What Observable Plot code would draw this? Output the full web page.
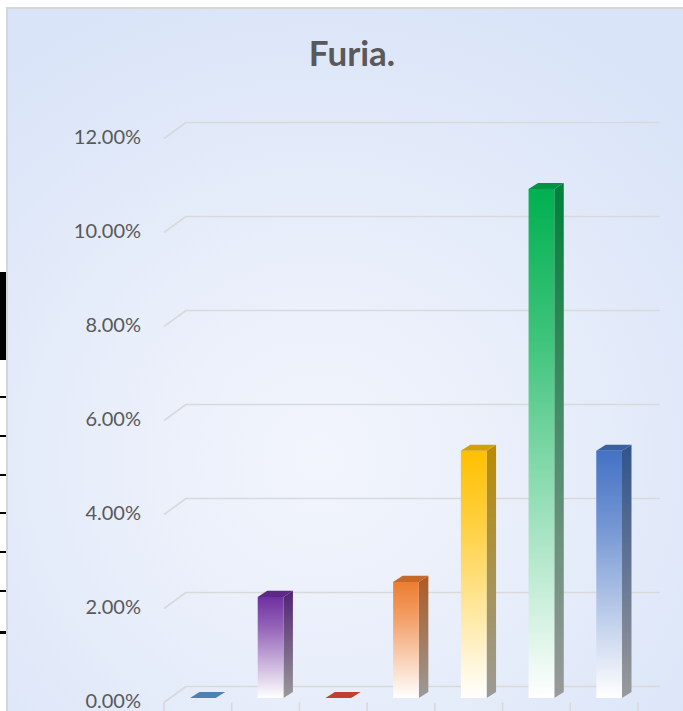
<!DOCTYPE html>
<html><head><meta charset="utf-8">
<script src="https://cdn.jsdelivr.net/npm/d3@7"></script>
<script src="https://cdn.jsdelivr.net/npm/@observablehq/plot@0.6"></script>
<style>
html,body{margin:0;padding:0;background:#fff;width:683px;height:711px;overflow:hidden;position:relative;}
#frame{position:absolute;left:6px;top:7px;width:677px;height:704px;border-left:2px solid #d6d6d6;border-top:2px solid #d6d6d6;box-sizing:border-box;
 background:radial-gradient(ellipse 75% 70% at 46% 64%, #f2f5fc 0%, #e8eefa 45%, #d9e4f8 100%);}
#title{position:absolute;left:0;width:704px;top:35px;text-align:center;font:bold 35px Lato, sans-serif;line-height:1;color:#595959;}
#chart{position:absolute;left:0;top:100px;}
.cell{position:absolute;left:0;width:6px;background:#000;}
</style></head>
<body>
<div class="cell" style="top:272px;height:88px"></div>
<div class="cell" style="top:396px;height:2px"></div>
<div class="cell" style="top:435px;height:2px"></div>
<div class="cell" style="top:474px;height:2px"></div>
<div class="cell" style="top:512px;height:2px"></div>
<div class="cell" style="top:551px;height:2px"></div>
<div class="cell" style="top:590px;height:2px"></div>
<div class="cell" style="top:631px;height:3px"></div>
<div id="frame"></div>
<div id="title">Furia.</div>
<div id="chart"></div>
<script>
// ---- data ----
const categories = ["1", "2", "3", "4", "5", "6", "7"];
const values = [0, 2.15, 0, 2.47, 5.26, 10.83, 5.26];
const colors = ["#5b9bd5", "#7030a0", "#e74c3c", "#ed7d31", "#ffc000", "#00b050", "#4472c4"];
const yTicks = [0, 2, 4, 6, 8, 10, 12];
const tickLabels = ["0.00%", "2.00%", "4.00%", "6.00%", "8.00%", "10.00%", "12.00%"];

// ---- 3D projection constants (in data units) ----
const HW = 0.19, DX = 0.14, DY = 0.13;
const FRONT = {x: -0.081, y: -0.085}, BACK = {x: 0.244, y: 0.255};
const bx1 = i => i + 0.5 - HW, bx2 = i => i + 0.5 + HW;

const bars = categories.map((c, i) => ({c, i, v: values[i]}));
const sideData = bars.flatMap(b => [
  {i: b.i, x: bx2(b.i), y1: 0, y2: b.v},
  {i: b.i, x: bx2(b.i) + DX, y1: DY, y2: b.v + DY}
]);
const topData = bars.flatMap(b => {
  const l = bx1(b.i), r = bx2(b.i), v = b.v;
  return [
    {i: b.i, x: l, y1: v, y2: v},
    {i: b.i, x: l + DX, y1: v, y2: v + DY},
    {i: b.i, x: r, y1: v, y2: v + DY},
    {i: b.i, x: r + DX, y1: v + DY, y2: v + DY}
  ];
});
const topColors = colors.map(c => d3.color(c).darker(0.5).formatHex());
const ticks = yTicks.map((t, k) => ({t, label: tickLabels[k]}));
const bounds = d3.range(categories.length + 1);

const chart = Plot.plot({
  width: 683, height: 611,
  marginLeft: 169, marginRight: 40, marginTop: 34, marginBottom: 13,
  x: {domain: [0, categories.length], axis: null},
  y: {domain: [0, 12], axis: null},
  color: {type: "identity"},
  style: {background: "transparent", overflow: "visible"},
  marks: [
    Plot.ruleY(ticks, {y: d => d.t + BACK.y, x1: BACK.x, x2: categories.length + BACK.x, stroke: "#d9d9d9", strokeWidth: 1.6}),
    Plot.link(ticks, {x1: FRONT.x, y1: d => d.t + FRONT.y, x2: BACK.x, y2: d => d.t + BACK.y, stroke: "#d9d9d9", strokeWidth: 1.6}),
    Plot.link(bounds, {x1: d => d + FRONT.x, x2: d => d + FRONT.x, y1: FRONT.y, y2: FRONT.y - 0.4, stroke: "#d9d9d9", strokeWidth: 1.6}),
    Plot.text(ticks, {x: FRONT.x, y: d => d.t + FRONT.y, text: "label", textAnchor: "end", dx: -23, dy: -1, fontSize: 20, fill: "#595959", fontFamily: "Lato, sans-serif"}),
    Plot.areaY(sideData, {x: "x", y1: "y1", y2: "y2", z: "i", fill: d => `url(#side-${d.i})`}),
    Plot.rect(bars, {x1: d => bx1(d.i), x2: d => bx2(d.i), y1: 0, y2: "v", fill: d => `url(#front-${d.i})`}),
    Plot.areaY(topData, {x: "x", y1: "y1", y2: "y2", z: "i", fill: d => topColors[d.i]})
  ]
});

// gradients
const NS = "http://www.w3.org/2000/svg";
const defs = document.createElementNS(NS, "defs");
function grad(id, stops) {
  const g = document.createElementNS(NS, "linearGradient");
  g.setAttribute("id", id);
  g.setAttribute("x1", "0"); g.setAttribute("y1", "0");
  g.setAttribute("x2", "0"); g.setAttribute("y2", "1");
  for (const [o, c] of stops) {
    const s = document.createElementNS(NS, "stop");
    s.setAttribute("offset", o); s.setAttribute("stop-color", c);
    g.appendChild(s);
  }
  defs.appendChild(g);
}
colors.forEach((c, i) => {
  const mid = d3.interpolateRgb(c, "#ffffff")(0.25);
  grad(`front-${i}`, [[0, c], [0.3, mid], [1, "#ffffff"]]);
  grad(`side-${i}`, [[0, d3.color(c).darker(0.9).formatHex()], [1, "#9a9a9a"]]);
});
chart.insertBefore(defs, chart.firstChild);
document.getElementById("chart").appendChild(chart);
</script>
</body></html>
